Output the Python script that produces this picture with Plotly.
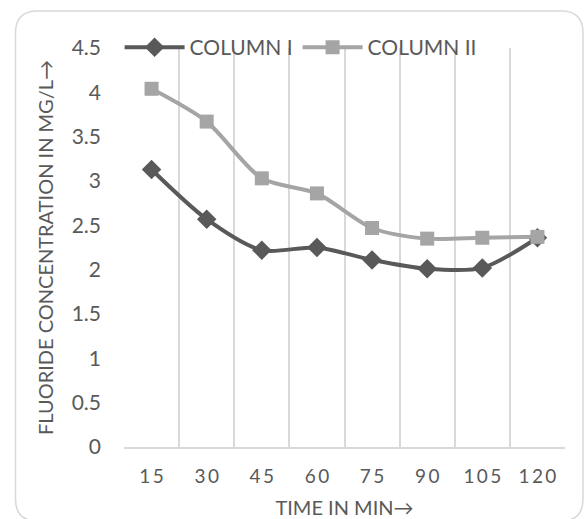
import plotly.graph_objects as go

# ---- data ----
times = ["15", "30", "45", "60", "75", "90", "105", "120"]
column_1 = [3.13, 2.57, 2.22, 2.25, 2.11, 2.01, 2.02, 2.36]
column_2 = [4.04, 3.67, 3.03, 2.86, 2.47, 2.35, 2.36, 2.37]
series_names = ["COLUMN I", "COLUMN II"]
y_ticks = [0, 0.5, 1, 1.5, 2, 2.5, 3, 3.5, 4, 4.5]
y_ticktext = ["0", "0.5", "1", "1.5", "2", "2.5", "3", "3.5", "4", "4.5"]

W, H = 584, 519
ML, MR, MT, MB = 124, 19, 48, 72
TXT = "#595959"
GRID = "#D9D9D9"
FONT = "Lato"

# letter-spaced category labels (as in the reference)
x_ticktext = ["\u2009".join(list(t)) for t in times]

fig = go.Figure()
fig.add_trace(go.Scatter(
    x=times, y=column_1, name=series_names[0], mode="lines+markers",
    line=dict(color="#595959", width=4, shape="spline", smoothing=0.8),
    marker=dict(symbol="diamond", size=15, color="#595959"),
))
fig.add_trace(go.Scatter(
    x=times, y=column_2, name=series_names[1], mode="lines+markers",
    line=dict(color="#A5A5A5", width=4, shape="spline", smoothing=0.8),
    marker=dict(symbol="square", size=14, color="#A5A5A5"),
))

# rounded chart border (pixel -> paper conversion)
pw = W - ML - MR
ph = H - MT - MB
def px(x):
    return (x - ML) / pw
def py(y):
    return (H - MB - y) / ph
L, T, R, B, r = 15.5, 11, 583, 521, 22
path = (
    f"M {px(L+r)},{py(T)} L {px(R-r)},{py(T)} Q {px(R)},{py(T)} {px(R)},{py(T+r)} "
    f"L {px(R)},{py(B-r)} Q {px(R)},{py(B)} {px(R-r)},{py(B)} "
    f"L {px(L+r)},{py(B)} Q {px(L)},{py(B)} {px(L)},{py(B-r)} "
    f"L {px(L)},{py(T+r)} Q {px(L)},{py(T)} {px(L+r)},{py(T)} Z"
)

fig.update_layout(
    width=W, height=H,
    margin=dict(l=ML, r=MR, t=MT, b=MB, autoexpand=False),
    paper_bgcolor="white", plot_bgcolor="white",
    font=dict(family=FONT, color=TXT, size=18),
    showlegend=True,
    legend=dict(orientation="h", x=-0.01, y=1.001, xanchor="left", yanchor="middle",
                font=dict(size=21, color=TXT), bgcolor="rgba(0,0,0,0)",
                itemwidth=60, tracegroupgap=0),
    xaxis=dict(
        type="category", range=[-0.5, 7.5], tickson="boundaries",
        tickvals=times, ticktext=x_ticktext,
        showgrid=True, gridcolor=GRID, gridwidth=1.5,
        showline=True, linecolor=GRID, linewidth=1.5,
        ticks="", ticklabelstandoff=11, automargin=False,
        tickfont=dict(size=19, color=TXT),
        title=dict(text="TIME IN MIN→", font=dict(size=20, color=TXT), standoff=24),
        fixedrange=True,
    ),
    yaxis=dict(
        range=[0, 4.5], tickvals=y_ticks, ticktext=y_ticktext,
        showgrid=False, zeroline=False, showline=False,
        ticks="", ticklabelstandoff=22, automargin=False,
        tickfont=dict(size=21, color=TXT),
        title=dict(text="FLUORIDE CONCENTRATION IN MG/L→", font=dict(size=20, color=TXT), standoff=12),
        fixedrange=True,
    ),
    shapes=[dict(type="path", xref="paper", yref="paper", path=path,
                 line=dict(color=GRID, width=1.5), fillcolor="rgba(0,0,0,0)", layer="below")],
)

fig.write_html("out.html")
